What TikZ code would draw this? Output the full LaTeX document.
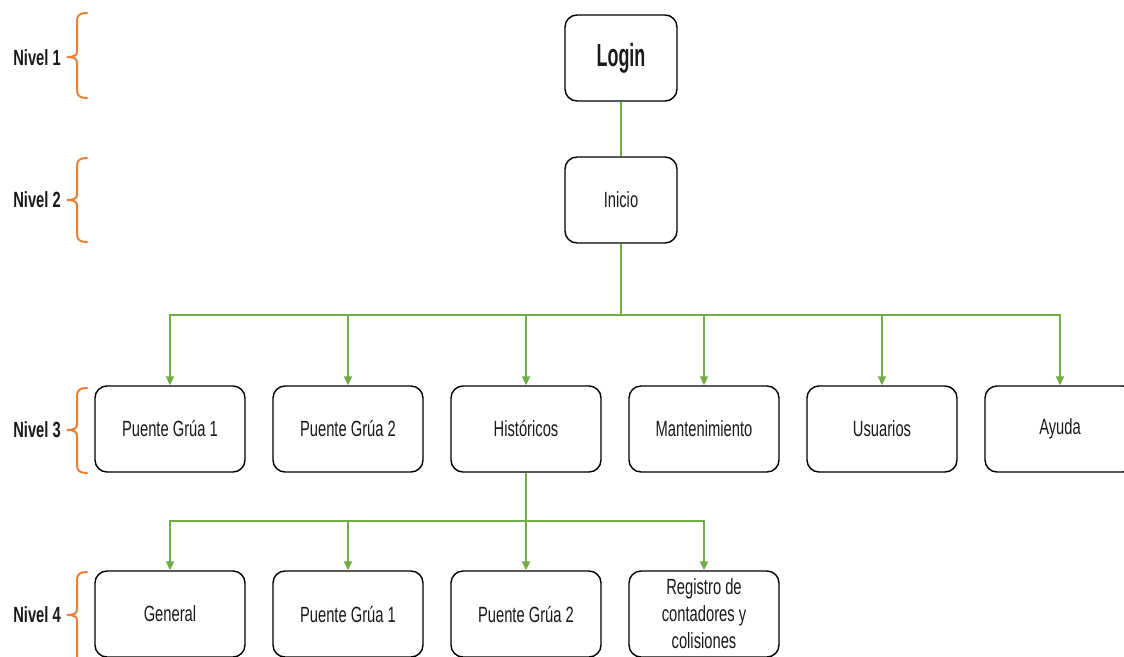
\documentclass[tikz,border=0pt]{standalone}
\usepackage{fontspec}
\setmainfont{Liberation Sans}[FakeStretch=0.67]
\newfontfamily\titlefont{Liberation Sans}[FakeStretch=0.56]
\usetikzlibrary{arrows.meta}
\definecolor{linkgreen}{HTML}{70AD47}
\definecolor{braceorange}{HTML}{ED7D31}
\definecolor{inktext}{HTML}{1A1A1A}
\tikzset{
  x=1pt, y=-1pt,
  screen/.style={draw=black, line width=1.4pt, rounded corners=12pt,
    minimum width=150pt, minimum height=86pt, align=center, text=inktext,
    font=\fontsize{22}{27}\selectfont, inner sep=2pt},
  topscreen/.style={screen, minimum width=112pt},
  link/.style={draw=linkgreen, line width=2pt},
  arr/.style={link, -{Triangle[length=9pt,width=8pt]}},
  brace/.style={draw=braceorange, line width=2pt, line cap=round},
  levellabel/.style={anchor=east, text=inktext, inner sep=0pt,
    font=\fontsize{22}{26}\selectfont\bfseries}
}
\newcommand{\levelbrace}[3]{%
  \draw[brace] (87,#1) .. controls (80,#1) and (77,#1+2) .. (77,#1+8)
    -- (77,#3-6) .. controls (77,#3-2) and (75,#3) .. (67,#3)
    .. controls (75,#3) and (77,#3+2) .. (77,#3+6)
    -- (77,#2-8) .. controls (77,#2-2) and (80,#2) .. (87,#2);}
\begin{document}
\begin{tikzpicture}
\useasboundingbox (0,0) rectangle (1124,656);
\clip (0,0) rectangle (1124,656);
\fill[white] (0,0) rectangle (1124,656);

% level markers
\node[levellabel] (n1) at (61,58) {Nivel 1};
\node[levellabel] (n2) at (61,200) {Nivel 2};
\node[levellabel] (n3) at (61,430) {Nivel 3};
\node[levellabel] (n4) at (61,615) {Nivel 4};
\levelbrace{13}{98}{57}
\levelbrace{158}{242}{200}
\levelbrace{388}{473}{430}
\levelbrace{572}{700}{615}

% screens
\node[topscreen, font=\fontsize{32}{34}\selectfont\titlefont\bfseries] (login) at (621,58) {Login};
\node[topscreen] (inicio) at (621,200) {Inicio};

\node[screen] (pg1) at (170,429) {Puente Grúa 1};
\node[screen] (pg2) at (348,429) {Puente Grúa 2};
\node[screen] (hist) at (526,429) {Históricos};
\node[screen] (mant) at (704,429) {Mantenimiento};
\node[screen] (usr) at (882,429) {Usuarios};
\node[screen] (ayuda) at (1060,429) {Ayuda};

\node[screen] (gen) at (170,614) {General};
\node[screen] (hpg1) at (348,614) {Puente Grúa 1};
\node[screen] (hpg2) at (526,614) {Puente Grúa 2};
\node[screen] (reg) at (704,614) {Registro de\\contadores y\\colisiones};

% connectors
\draw[link] (login) -- (inicio);
\coordinate (bus3) at (621,315);
\draw[link] (inicio.south) -- (bus3);
\foreach \t in {pg1,pg2,hist,mant,usr,ayuda}
  \draw[arr] (bus3) -| (\t.north);

\coordinate (bus4) at (526,521);
\draw[link] (hist.south) -- (bus4);
\foreach \t in {gen,hpg1,hpg2,reg}
  \draw[arr] (bus4) -| (\t.north);
\end{tikzpicture}
\end{document}
